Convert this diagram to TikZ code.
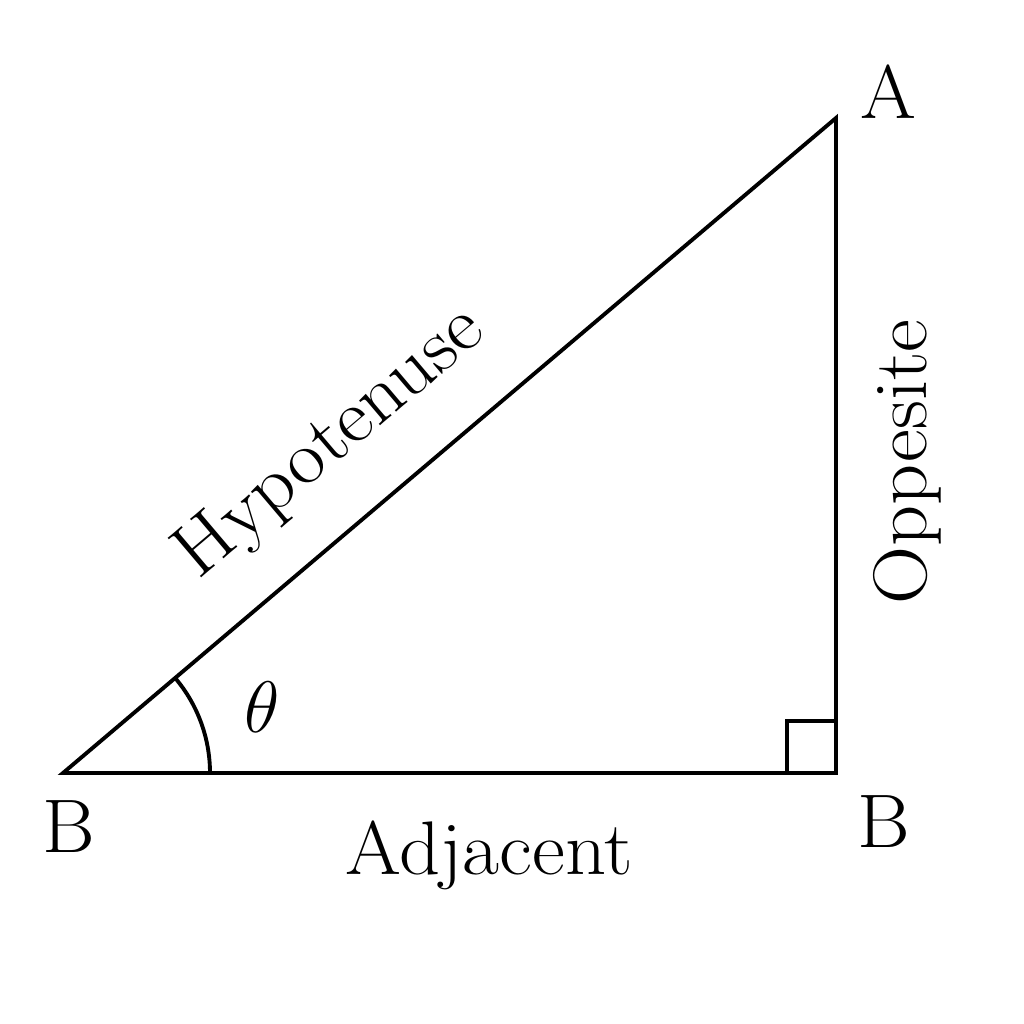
\documentclass[tikz,border=0pt]{standalone}
\usepackage{graphicx}
\newcommand{\widetxt}[1]{\scalebox{1.06}[1]{#1}}
\begin{document}
\begin{tikzpicture}[x=0.01cm,y=-0.01cm,
  edge/.style={line width=1.1pt, line join=miter},
  lbl/.style={font=\fontsize{21.6}{26}\selectfont, inner sep=0pt}]
\useasboundingbox (0,0) rectangle (1024,1024);
\coordinate (B1) at (63,773);
\coordinate (B2) at (836,773);
\coordinate (A) at (836,118);
\draw[edge] (B1) -- (B2) -- (A) -- cycle;
\draw[edge] (787,773) -- (787,721) -- (836,721);
\draw[edge] (210,773) arc[start angle=0, end angle=-40.3, radius=147];
\node[lbl] (lA) at (888,92) {\widetxt{A}};
\node[lbl] (lB1) at (69,827) {\widetxt{B}};
\node[lbl] (lB2) at (884,822) {\widetxt{B}};
\node[lbl] (adj) at (489,855) {\widetxt{Adjacent}};
\node[lbl] (opp) at (907,462) [rotate=90] {\widetxt{Oppesite}};
\node[lbl] (hyp) at (331,444) [rotate=40.3] {\widetxt{Hypotenuse}};
\node[lbl] (th) at (262,707) {$\theta$};
\end{tikzpicture}
\end{document}
